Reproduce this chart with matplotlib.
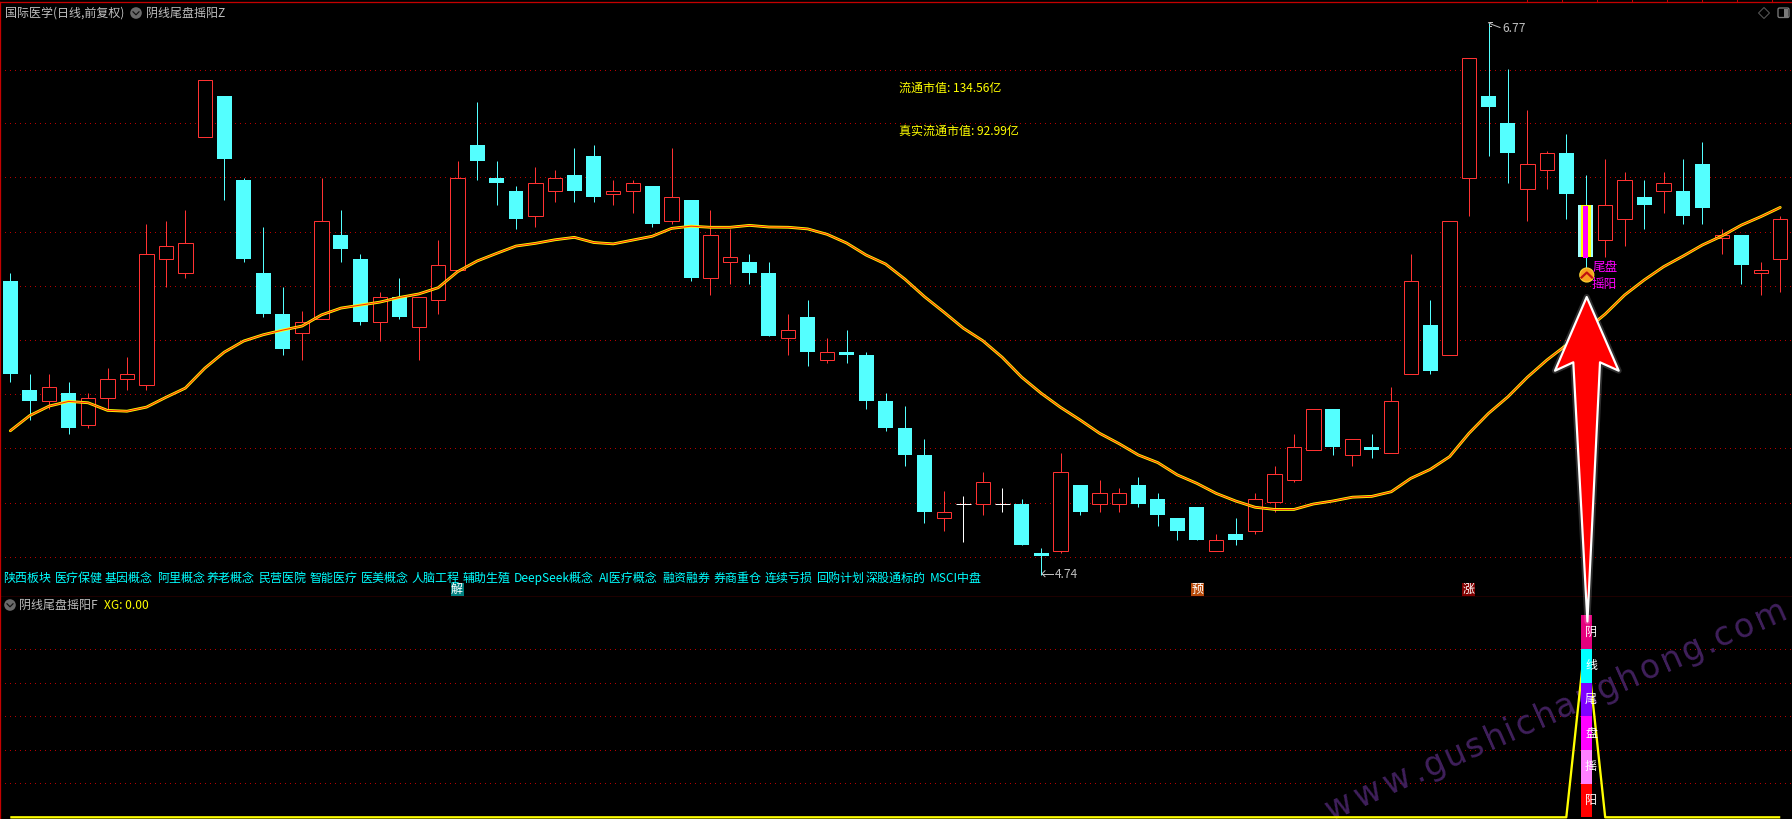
import math
import matplotlib
matplotlib.use("Agg")
import matplotlib.pyplot as plt
from matplotlib.patches import Polygon, Circle, Rectangle, FancyBboxPatch
from matplotlib.textpath import TextPath
from matplotlib.font_manager import FontProperties

plt.rcParams['font.family'] = ['Noto Sans CJK SC', 'DejaVu Sans']

# ------------------------------ data ------------------------------
opens = [5.82,5.42,5.38,5.41,5.29,5.39,5.46,5.44,5.90,5.85,6.35,6.50,6.19,5.85,5.70,5.63,5.68,5.99,5.90,5.67,
         5.76,5.65,5.75,5.86,6.32,6.20,6.15,6.06,6.15,6.21,6.28,6.14,6.15,6.17,6.04,6.12,5.83,5.89,5.89,5.85,
         5.61,5.69,5.53,5.56,5.55,5.38,5.28,5.18,4.95,5.00,5.00,5.00,5.00,4.82,4.83,5.07,5.00,5.00,5.07,5.02,
         4.95,4.99,4.83,4.89,4.90,5.01,5.09,5.20,5.35,5.18,5.21,5.19,5.48,5.66,5.55,6.20,6.50,6.40,6.16,6.23,
         6.29,6.10,5.97,6.05,6.13,6.15,6.15,6.25,5.98,5.99,5.85,5.90]
closes = [5.48,5.38,5.43,5.28,5.39,5.46,5.48,5.92,5.95,5.96,6.56,6.27,5.90,5.70,5.57,5.67,6.04,5.94,5.67,5.76,
          5.69,5.76,5.88,6.20,6.26,6.18,6.05,6.18,6.20,6.15,6.13,6.15,6.18,6.03,6.13,5.83,5.99,5.91,5.85,5.62,
          5.64,5.56,5.56,5.55,5.38,5.28,5.18,4.97,4.97,5.00,5.08,5.00,4.85,4.81,5.12,4.97,5.04,5.04,5.00,4.96,
          4.90,4.87,4.87,4.87,5.02,5.11,5.21,5.35,5.21,5.24,5.20,5.38,5.82,5.49,6.04,6.64,6.46,6.29,6.25,6.29,
          6.14,5.91,6.10,6.19,6.10,6.18,6.06,6.09,5.99,5.88,5.86,6.05]
highs = [5.85,5.48,5.48,5.45,5.41,5.50,5.54,6.03,6.04,6.08,6.56,6.50,6.20,6.02,5.80,5.71,6.20,6.08,5.92,5.78,
         5.83,5.76,5.97,6.26,6.48,6.26,6.17,6.24,6.23,6.31,6.32,6.19,6.19,6.17,6.31,6.12,6.08,6.01,5.92,5.89,
         5.70,5.75,5.61,5.64,5.56,5.41,5.36,5.24,5.05,5.03,5.12,5.06,5.02,4.84,5.19,5.07,5.09,5.06,5.10,5.04,
         4.95,4.99,4.89,4.95,5.04,5.14,5.26,5.35,5.35,5.24,5.26,5.43,5.92,5.75,6.04,6.64,6.77,6.60,6.45,6.30,
         6.36,6.21,6.27,6.22,6.19,6.22,6.27,6.33,6.01,5.99,5.89,6.06]
lows = [5.45,5.31,5.35,5.26,5.28,5.35,5.42,5.42,5.80,5.83,6.35,6.12,5.89,5.69,5.55,5.53,5.68,5.89,5.66,5.60,
        5.68,5.53,5.70,5.86,6.19,6.10,6.01,6.02,6.11,6.11,6.11,6.10,6.07,6.02,6.03,5.82,5.77,5.81,5.81,5.62,
        5.55,5.51,5.52,5.52,5.35,5.27,5.14,4.93,4.90,4.86,4.96,4.97,4.85,4.74,4.82,4.96,4.97,4.97,4.99,4.92,
        4.87,4.87,4.83,4.85,4.89,4.97,5.08,5.20,5.18,5.14,5.17,5.19,5.48,5.48,5.55,6.06,6.28,6.18,6.04,6.16,
        6.05,5.87,5.91,5.95,6.01,6.07,6.03,6.03,5.92,5.81,5.77,5.78]
ma_line = [5.270,5.326,5.361,5.378,5.373,5.345,5.342,5.357,5.393,5.427,5.500,5.559,5.600,5.623,5.640,5.655,
           5.696,5.721,5.732,5.743,5.760,5.773,5.796,5.855,5.894,5.922,5.949,5.959,5.972,5.981,5.962,5.957,
           5.971,5.985,6.014,6.022,6.018,6.018,6.025,6.019,6.018,6.012,5.992,5.960,5.916,5.883,5.827,5.763,
           5.706,5.647,5.601,5.540,5.467,5.408,5.356,5.310,5.261,5.223,5.181,5.153,5.108,5.077,5.040,5.012,
           4.989,4.981,4.981,5.001,5.012,5.026,5.029,5.046,5.095,5.128,5.175,5.261,5.334,5.395,5.467,5.530,
           5.585,5.640,5.699,5.769,5.824,5.873,5.912,5.953,5.986,6.026,6.057,6.091]
signal_index = 81
xg_values = [0]*81 + [0.9] + [0]*10
price_grid = [6.597,6.400,6.202,5.999,5.801,5.603,5.404,5.206,5.004,4.805]
xg_grid = [0.169,0.333,0.502,0.666,0.8345]
title_main = "国际医学(日线,前复权)"
title_ind = "阴线尾盘摇阳Z"
title_sub = "阴线尾盘摇阳F"
xg_label = "XG: 0.00"
float_cap = "流通市值: 134.56亿"
real_cap = "真实流通市值: 92.99亿"
seg_labels = ["阳", "摇", "盘", "尾", "线", "阴"]
seg_colors = ["#FF0000", "#FF80FF", "#FF00FF", "#7F00FF", "#00FFFF", "#E6007E"]
tags = ["陕西板块","医疗保健","基因概念","阿里概念","养老概念","民营医院","智能医疗","医美概念","人脑工程","辅助生殖",
        "DeepSeek概念","AI医疗概念","融资融券","券商重仓","连续亏损","回购计划","深股通标的","MSCI中盘"]
tag_x = [3.5,55,105,157,207,258,310,361,411,463,514,599,662,714,765,816,866,930]
badges = [("解",457,"#008080"),("预",1197.5,"#B84A0A"),("涨",1468.5,"#800000")]
watermark = "www.gushichanghong.com"

# ------------------------------ style ------------------------------
W, H, DPI = 1792, 819, 100
PX = 72 / DPI
RED, CYAN = "#FF3232", "#54FFFF"
GRID = "#B80000"
BORDER = "#C40000"
GREY = "#C0C0C0"
BODY = 0.77
FS = 12 * PX

fig = plt.figure(figsize=(W/DPI, H/DPI), dpi=DPI, facecolor="black")
sep_y, top_y = 596.5, 2.0
ax = fig.add_axes([0, (H-sep_y)/H, 1, (sep_y-top_y)/H], facecolor="black")
ax2 = fig.add_axes([0, 0, 1, (H-sep_y)/H], facecolor="black")
ov = fig.add_axes([0, 0, 1, 1], facecolor="none")
ov.set_xlim(0, W); ov.set_ylim(H, 0); ov.axis("off")

xlim = (-10.3/19.45, (W-10.3)/19.45)
for a, ylim, grid in ((ax, (4.661, 6.846), price_grid), (ax2, (-0.0084, 1.094), xg_grid)):
    a.set_xlim(*xlim); a.set_ylim(*ylim)
    a.set_xticks([]); a.set_yticks(grid)
    a.tick_params(length=0, labelleft=False)
    a.grid(axis="y", color=GRID, lw=PX, linestyle=(0, (1, 4.3)), zorder=0, antialiased=False)
    a.set_axisbelow(True)
    for name, sp in a.spines.items():
        sp.set_visible(name == "left" or (a is ax and name in ("top", "bottom")))
        sp.set_color(BORDER); sp.set_linewidth(1.3*PX)

# candles
for i, (o, c, h, l) in enumerate(zip(opens, closes, highs, lows)):
    if i == signal_index:
        ax.vlines(i, l, h, color=CYAN, lw=PX, zorder=2)
        ax.bar(i, o-c, bottom=c, width=BODY, color="#9FFFFF", zorder=3, antialiased=False)
        ax.bar(i, o-c, bottom=c, width=0.5, color="#FFFF00", zorder=3.1, antialiased=False)
        ax.bar(i, o-c, bottom=c-0.004, width=0.27, color="#FF00FF", zorder=3.2, antialiased=False)
    elif c > o:
        ax.vlines(i, l, h, color=RED, lw=PX, zorder=2)
        ax.bar(i, c-o, bottom=o, width=BODY-0.03, facecolor="black", edgecolor=RED, lw=PX, zorder=3)
    elif c < o:
        ax.vlines(i, l, h, color=CYAN, lw=PX, zorder=2)
        ax.bar(i, o-c, bottom=c, width=BODY, color=CYAN, zorder=3, antialiased=False)
    else:
        ax.vlines(i, l, h, color="white", lw=PX, zorder=2)
        ax.hlines(o, i-BODY/2, i+BODY/2, color="white", lw=PX, zorder=3)

xs = list(range(len(ma_line)))
ax.plot(xs, ma_line, color="#FFFF00", lw=2.8*PX, zorder=5, solid_capstyle="round")
ax.plot(xs, ma_line, color="#FF2A10", lw=1.05*PX, zorder=6)

# lower pane: letter-spaced watermark behind the bar
wm_angle = 24.0
wm_size_px = 33
wm_gap = 7.5
wm_prop = FontProperties(family="DejaVu Sans")
wm_dir = (math.cos(math.radians(wm_angle)), -math.sin(math.radians(wm_angle)))
adv = [TextPath((0, 0), ch, size=wm_size_px, prop=wm_prop).get_extents().width + wm_gap for ch in watermark]
end_x, end_y = 1791.0, 616.0
px_, py_ = end_x - sum(adv)*wm_dir[0], end_y - sum(adv)*wm_dir[1]
for ch, dv in zip(watermark, adv):
    ax2.text(px_, py_, ch, transform=ov.transData, rotation=wm_angle, rotation_mode="anchor",
             ha="left", va="baseline", fontsize=wm_size_px*PX, family="DejaVu Sans",
             color="#40205C", zorder=1)
    px_ += dv*wm_dir[0]; py_ += dv*wm_dir[1]

ax2.plot(list(range(len(xg_values))), xg_values, color="#FFFF00", lw=2.3*PX, zorder=2,
         solid_capstyle="butt")
for k, col in enumerate(seg_colors):
    ax2.bar(signal_index+0.04, 1/6, bottom=k/6, width=0.566, color=col, zorder=3, antialiased=False)
    ax2.text(signal_index+0.27, (k+0.5)/6, seg_labels[k], color="white", fontsize=FS,
             ha="center", va="center", zorder=4)

# header and notes
def t(x, y, s, color, ha="left", **kw):
    ov.text(x, y + 1, s, color=color, fontsize=kw.pop("fs", FS), ha=ha, va="center", **kw)

def menu_icon(x, y):
    ov.add_patch(Circle((x, y), 5.8, facecolor="#6A6A6A", edgecolor="none"))
    ov.plot([x-3, x, x+3], [y-1.2, y+1.8, y-1.2], color="#111111", lw=1.2*PX)

t(4.5, 12, title_main, GREY)
menu_icon(136, 13)
t(146, 12, title_ind, GREY)
menu_icon(10, 605)
t(19, 604.5, title_sub, GREY)
t(104, 604.5, xg_label, "#FFFF00")
t(899, 87, float_cap, "#FFFF00")
t(899, 130.5, real_cap, "#FFFF00")
for s, x in zip(tags, tag_x):
    t(x, 577.5, s, "#00FFFF")
for s, x, col in badges:
    ov.add_patch(Rectangle((x-6.5, 582.5), 13, 13, facecolor=col, edgecolor="none", zorder=5))
    ov.text(x, 589, s, color="white", fontsize=FS, ha="center", va="center", zorder=6)

# high / low callouts
t(1502, 27.5, "6.77", GREY)
ov.plot([1488.5, 1492, 1500], [22.7, 24.5, 27.5], color=GREY, lw=PX)
ov.plot([1488.5, 1491.5], [21.5, 21.5], color=GREY, lw=PX)
ov.plot([1488.5, 1491], [25.5, 25.5], color=GREY, lw=PX)
t(1055, 573.5, "4.74", GREY)
ov.plot([1042, 1053], [573.7, 573.7], color=GREY, lw=PX)
ov.plot([1045, 1042, 1045], [570.7, 573.7, 576.7], color=GREY, lw=PX)

# signal marker
ov.add_patch(Circle((1586.8, 275), 7, facecolor="#F7A01E", edgecolor="#F9D030", lw=1.2*PX, zorder=4))
ov.plot([1581.5, 1586.8, 1592], [277.5, 272.5, 277.5], color="#C01010", lw=2.2*PX, zorder=5)
t(1592.5, 267, "尾盘", "#FF00FF", fs=FS*1.05, zorder=4)
t(1592, 283, "摇阳", "#FF00FF", fs=FS*1.05, zorder=4)

# arrow annotation
arrow = [(1586.7, 297), (1618.7, 370.7), (1600, 362.3), (1587.4, 621.5), (1573.3, 362.3), (1555, 370.7)]
ov.add_patch(Polygon(arrow, closed=True, facecolor="none", edgecolor="white", alpha=0.18, lw=6*PX, joinstyle="round", zorder=7))
ov.add_patch(Polygon(arrow, closed=True, facecolor="#FF0000", edgecolor="white", lw=2.2*PX, joinstyle="round", zorder=8))

# top right furniture
for x in [1527, 1562, 1597, 1632, 1667, 1702, 1737, 1772]:
    ov.plot([x, x], [0, 2], color=BORDER, lw=PX)
ov.add_patch(Polygon([(1764, 7.5), (1769.5, 13), (1764, 18.5), (1758.5, 13)], closed=True, facecolor="none", edgecolor="#5A5A5A", lw=PX))
ov.add_patch(FancyBboxPatch((1778, 8), 11, 9.5, boxstyle="round,pad=0,rounding_size=1.5", facecolor="none", edgecolor="#7A7A7A", lw=1.3*PX))
ov.add_patch(Rectangle((1784, 9), 4, 7.5, facecolor="#7A7A7A", edgecolor="none"))

fig.savefig("out.png", dpi=DPI, facecolor="black")
